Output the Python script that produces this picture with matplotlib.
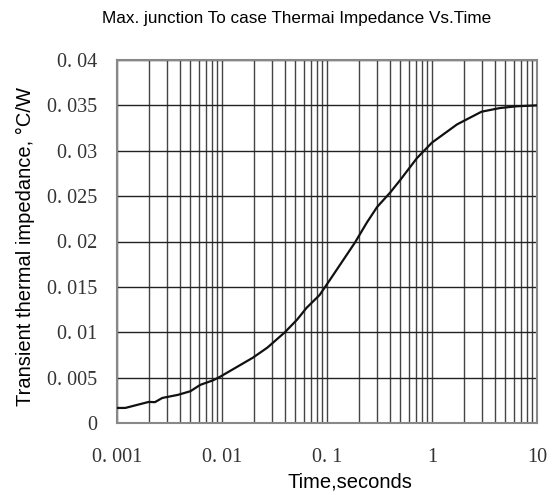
import matplotlib
matplotlib.use("Agg")
import matplotlib.pyplot as plt
import numpy as np
from matplotlib.ticker import FixedLocator, NullFormatter

time_s = [0.001, 0.0012, 0.002, 0.0023, 0.0027, 0.0038, 0.005, 0.0062, 0.0082,
          0.0096, 0.0197, 0.027, 0.0397, 0.052, 0.064, 0.085, 0.107, 0.185,
          0.24, 0.30, 0.40, 0.50, 0.72, 1.0, 1.73, 2.96, 4.4, 6.4, 10.0]
zth = [0.00166, 0.00166, 0.00232, 0.0023, 0.00276, 0.0031, 0.0035, 0.0042, 0.0047,
       0.0051, 0.0072, 0.0083, 0.0100, 0.0114, 0.0127, 0.0141, 0.0158, 0.0199,
       0.0221, 0.0238, 0.0254, 0.0268, 0.0292, 0.0309, 0.0329, 0.0343, 0.0347, 0.0349, 0.0350]

x_ticks = [0.001, 0.01, 0.1, 1, 10]
x_tick_labels = ["0. 001", "0. 01", "0. 1", "1", "10"]
y_ticks = [0, 0.005, 0.01, 0.015, 0.02, 0.025, 0.03, 0.035, 0.04]
y_tick_labels = ["0", "0. 005", "0. 01", "0. 015", "0. 02", "0. 025", "0. 03", "0. 035", "0. 04"]

title = "Max. junction To case Thermai Impedance Vs.Time"
xlabel = "Time,seconds"
ylabel = "Transient thermal impedance, °C/W"

fig = plt.figure(figsize=(5.53, 4.95), dpi=100)
ax = fig.add_axes([117/553, 1-423/495, 420/553, 363/495])
ax.set_xscale("log")
ax.set_xlim(0.001, 10)
ax.set_ylim(0, 0.04)

minor = [m * 10.0**e for e in range(-3, 1) for m in range(2, 10)]
for v in minor + x_ticks:
    ax.axvline(v, color="#444444", lw=1.0, zorder=1)
for v in y_ticks:
    ax.axhline(v, color="#222222", lw=1.0, zorder=1)

ax.plot(time_s, zth, color="#111111", lw=1.6, zorder=3)

ax.xaxis.set_major_locator(FixedLocator(x_ticks))
ax.xaxis.set_minor_locator(FixedLocator(minor))
ax.xaxis.set_minor_formatter(NullFormatter())
ax.set_xticks(x_ticks)
ax.set_xticklabels(x_tick_labels, family="Liberation Serif", fontsize=14.5, color="#333333")
ax.set_yticks(y_ticks)
ax.set_yticklabels(y_tick_labels, family="Liberation Serif", fontsize=14.5, color="#333333")
ax.tick_params(axis="both", which="both", length=0)
ax.tick_params(axis="x", pad=18)
ax.tick_params(axis="y", pad=14)
for s in ax.spines.values():
    s.set_color("#888888")
    s.set_linewidth(1.5)

fig.text(297/553, 1-18/495, title, ha="center", va="center",
         family="Liberation Sans", fontsize=12.3)
fig.text(350/553, 1-482/495, xlabel, ha="center", va="center",
         family="Liberation Sans", fontsize=14.5)
fig.text(25/553, 1-247/495, ylabel, ha="center", va="center", rotation=90,
         family="Liberation Sans", fontsize=14.5)

fig.savefig("out.png", dpi=100)
